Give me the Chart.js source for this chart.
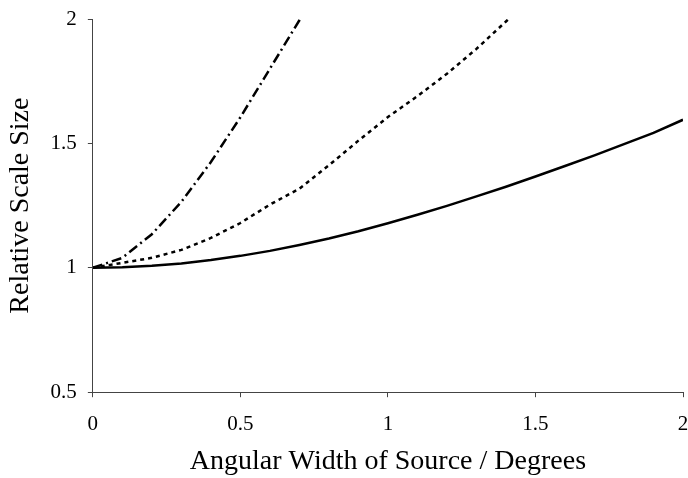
<!DOCTYPE html>
<html>
<head>
<meta charset="utf-8">
<script src="https://cdn.jsdelivr.net/npm/chart.js@4/dist/chart.umd.min.js"></script>
<style>
  html, body { margin: 0; padding: 0; background: #fff; }
  #wrap { width: 688px; height: 478px; }
</style>
</head>
<body>
<div id="wrap"><canvas id="scale-plot"></canvas></div>
<script>
// angular width (degrees) sampled every 0.1
var widths = [0, 0.1, 0.2, 0.3, 0.4, 0.5, 0.6, 0.7, 0.8, 0.9, 1.0,
              1.1, 1.2, 1.3, 1.4, 1.5, 1.6, 1.7, 1.8, 1.9, 2.0];

var solidValues = [1.000, 1.002, 1.008, 1.017, 1.031, 1.048, 1.068, 1.092, 1.118, 1.147, 1.179,
                   1.213, 1.249, 1.287, 1.326, 1.367, 1.409, 1.452, 1.497, 1.542, 1.595];
var dottedValues = [1.000, 1.020, 1.040, 1.072, 1.120, 1.180, 1.254, 1.318, 1.412, 1.511, 1.606,
                    1.690, 1.780, 1.880, 1.990, 2.100];
var dashDotValues = [1.000, 1.040, 1.135, 1.265, 1.425, 1.605, 1.800, 1.995, 2.200];

var xTicks = [0, 0.5, 1, 1.5, 2];
var yTicks = [0.5, 1, 1.5, 2];

var xTitle = "Angular Width of Source / Degrees";
var yTitle = "Relative Scale Size";

function points(vals) {
  return vals.map(function (v, i) { return { x: widths[i], y: v }; });
}

var serif = "'Liberation Serif', 'DejaVu Serif', serif";

new Chart("scale-plot", {
  type: "line",
  data: {
    datasets: [{
      label: "solid",
      data: points(solidValues),
      borderColor: "#000",
      borderWidth: 2.5,
      pointRadius: 0,
      tension: 0,
      clip: 0
    }, {
      label: "dotted",
      data: points(dottedValues),
      borderColor: "#000",
      borderWidth: 2.5,
      borderDash: [4, 4],
      pointRadius: 0,
      tension: 0,
      clip: 0
    }, {
      label: "dash-dot",
      data: points(dashDotValues),
      borderColor: "#000",
      borderWidth: 2.5,
      borderDash: [10, 4, 2, 4],
      pointRadius: 0,
      tension: 0,
      clip: 0
    }]
  },
  options: {
    responsive: true,
    maintainAspectRatio: false,
    animation: false,
    layout: { padding: { top: 0, right: 0, bottom: 0, left: 0 } },
    plugins: {
      legend: { display: false },
      tooltip: { enabled: false }
    },
    scales: {
      x: {
        type: "linear",
        min: 0,
        max: 2,
        afterBuildTicks: function (axis) {
          axis.ticks = xTicks.map(function (v) { return { value: v }; });
        },
        // last label runs to the canvas edge, like the original
        afterFit: function (axis) {
          axis.paddingRight = 5;
        },
        grid: { drawOnChartArea: false, tickLength: 5, color: "#444" },
        border: { color: "#444", width: 1 },
        ticks: {
          color: "#000", padding: 15, maxRotation: 0,
          font: { family: serif, size: 21 },
          callback: function (v) { return String(v); }
        },
        title: {
          display: true,
          text: xTitle,
          color: "#000",
          padding: { top: -8, bottom: 0 },
          font: { family: serif, size: 28 }
        }
      },
      y: {
        min: 0.5,
        max: 2,
        afterBuildTicks: function (axis) {
          axis.ticks = yTicks.map(function (v) { return { value: v }; });
        },
        afterFit: function (axis) {
          axis.paddingTop = 19;
        },
        grid: { drawOnChartArea: false, tickLength: 5, color: "#444" },
        border: { color: "#444", width: 1 },
        ticks: {
          color: "#000", padding: 11,
          font: { family: serif, size: 21 },
          callback: function (v) { return String(v); }
        },
        title: {
          display: true,
          text: yTitle,
          color: "#000",
          padding: { top: 4, bottom: 2 },
          font: { family: serif, size: 28 }
        }
      }
    }
  }
});
</script>
</body>
</html>
